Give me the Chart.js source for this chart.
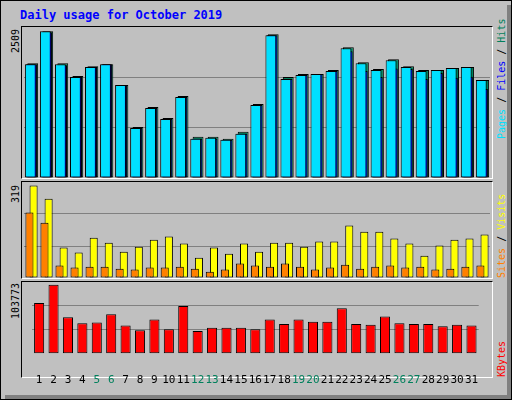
<!DOCTYPE html>
<html><head><meta charset="utf-8">
<script src="https://cdn.jsdelivr.net/npm/chart.js@4"></script>
<style>
body{margin:0;width:512px;height:400px;overflow:hidden;background:#fff;font-family:"DejaVu Sans Mono",monospace}
#frame{position:absolute;left:0;top:0;width:510px;height:398px;border:1px solid #000;background:#c0c0c0;overflow:hidden}
#frame:after{content:"";position:absolute;left:4px;top:4px;right:0;bottom:0;border-right:4px solid #808080;border-bottom:4px solid #808080}
.p{position:absolute;left:20px;width:472px;border:1px solid;border-color:#000 #fff #fff #000;box-sizing:border-box}
.c{position:absolute}
.t{position:absolute;font-size:10px;line-height:10px;white-space:nowrap;transform-origin:left top;transform:rotate(-90deg)}
#title{position:absolute;left:19px;top:7px;color:#0000ff;font-weight:bold;font-size:12px}
</style></head><body>
<div id="frame">
<div id="title">Daily usage for October 2019</div>
<div class="p" style="top:25px;height:153px"></div>
<div class="p" style="top:180px;height:98px"></div>
<div class="p" style="top:280px;height:97px"></div>
<div class="c" style="left:23px;top:26px;width:466px;height:151px"><canvas id="c1"></canvas></div>
<div class="c" style="left:23px;top:181px;width:466px;height:96px"><canvas id="c2"></canvas></div>
<div class="c" style="left:23px;top:281px;width:466px;height:117px"><canvas id="c3"></canvas></div>
<div class="t" style="left:10px;top:52px">2509</div>
<div class="t" style="left:10px;top:202px">319</div>
<div class="t" style="left:10px;top:318px">103773</div>
<div class="t" style="left:496px;top:138px"><span style="color:#00e0ff">Pages</span> / <span style="color:#0000ff">Files</span> / <span style="color:#00805c">Hits</span></div>
<div class="t" style="left:496px;top:277px"><span style="color:#ff8000">Sites</span> / <span style="color:#ffff00">Visits</span></div>
<div class="t" style="left:496px;top:376px;color:#ff0000">KBytes</div>
</div>
<script>
const days=['1','2','3','4','5','6','7','8','9','10','11','12','13','14','15','16','17','18','19','20','21','22','23','24','25','26','27','28','29','30','31'];
const weekendDays=['5','6','12','13','19','20','26','27'];
const hits=[1964,2509,1964,1743,1913,1947,1589,874,1215,1027,1402,704,704,670,789,1266,2458,1726,1777,1777,1845,2236,1981,1862,2032,1913,1845,1845,1879,1896,1674];
const files=[1947,2492,1930,1726,1896,1947,1589,857,1198,1010,1385,670,670,653,755,1249,2441,1692,1760,1777,1828,2168,1828,1726,1873,1862,1691,1794,1715,1732,1521];
const pages=[1947,2509,1947,1726,1896,1947,1589,857,1198,1010,1385,670,687,653,755,1249,2441,1692,1760,1777,1828,2219,1964,1845,2015,1896,1828,1845,1879,1896,1674];
const sites=[319,274,105,88,139,122,91,108,132,143,119,70,105,84,119,91,122,122,108,126,126,181,160,160,136,119,77,112,132,136,150];
const visits=[226,191,43,36,39,39,32,29,36,36,39,32,22,29,50,43,39,50,39,29,36,46,32,39,43,36,39,29,32,39,43];
const kbytes=[76497,103773,54912,45823,46959,59456,42414,35598,51503,36734,71953,34462,39006,39006,39006,36734,51503,44687,51503,48095,48095,68545,44687,43551,56048,45823,44687,44687,41278,43551,42414];
const maxLabels={hits:2509,sites:319,kbytes:103773};

function ds(data,color,order){return {data,backgroundColor:color,borderColor:'#000',borderWidth:1,borderSkipped:false,order};}
function mk(id,datasets,max,cp,bp,showX){
  return new Chart(document.getElementById(id),{type:'bar',
    data:{labels:days,datasets},
    options:{responsive:true,maintainAspectRatio:false,animation:false,
      layout:{padding:0},
      plugins:{legend:{display:false},tooltip:{enabled:false}},
      datasets:{bar:{categoryPercentage:cp,barPercentage:bp}},
      scales:{
        x:{display:showX,grid:{display:false},border:{display:false},
           ticks:{padding:12,maxRotation:0,autoSkip:false,font:{family:'DejaVu Sans Mono',size:11},
             color:c=>weekendDays.includes(days[c.index])?'#00805c':'#000'}},
        y:{display:true,min:0,max,ticks:{display:false,stepSize:max/3},border:{display:false},
           grid:{drawTicks:false,color:c=>(c.index===1||c.index===2)?'#808080':'rgba(0,0,0,0)',lineWidth:1}}
      }}});
}
mk('c1',[ds(hits,'#00805c',3),ds(files,'#0000ff',2),ds(pages,'#00e0ff',1)],maxLabels.hits*152/147.7,0.24,9,false);
mk('c2',[ds(sites,'#ffff00',2),ds(visits,'#ff8000',1)],maxLabels.sites*96/92.4,0.55,1.95,false);
mk('c3',[ds(kbytes,'#ff0000',1)],maxLabels.kbytes*95/91.3,0.7,1,true);
</script>
</body></html>
